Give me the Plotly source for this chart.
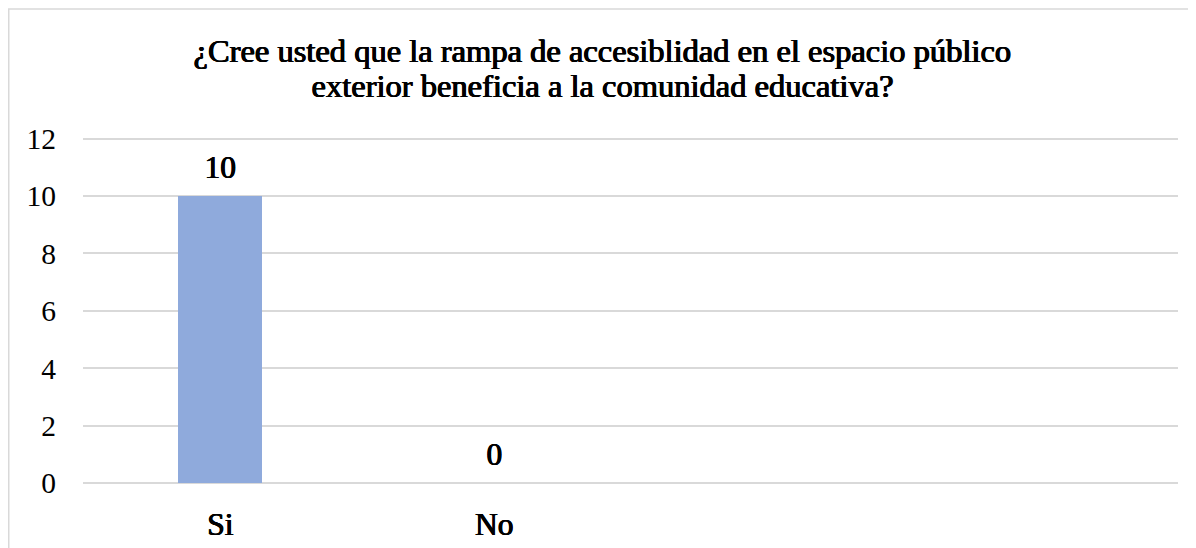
import plotly.graph_objects as go

categories = ["Si", "No"]
values = [10, 0]
y_ticks = [0, 2, 4, 6, 8, 10, 12]
title_lines = ["¿Cree usted que la rampa de accesiblidad en el espacio público",
               "exterior beneficia a la comunidad educativa?"]

SERIF = "Liberation Serif"
# Liberation Serif has no bold face here; thicken the regular face with a tight shadow
BOLD_SHADOW = "1.1px 0 0 #000000, 0.55px 0 0 #000000, 0.5px 0.3px 0 #000000"
# page body has an 8px margin, so the figure is sized to the remaining window
W, H = 1188, 540
ml, mr, mt, mb = 75, 18, 129, 65
pw = W - ml - mr
ph = H - mt - mb

fig = go.Figure()
fig.add_trace(go.Bar(
    x=categories, y=values, width=0.307,
    marker=dict(color="#8FAADC", line=dict(width=0)),
    hoverinfo="x+y",
))

for c, v in zip(categories, values):
    fig.add_annotation(x=c, y=v, text=str(v), showarrow=False,
                       yanchor="bottom", yshift=9,
                       font=dict(family=SERIF, size=31.5, color="#000000",
                                 shadow=BOLD_SHADOW))

# two-line title, each line placed separately to control the line spacing
for line, ypos in zip(title_lines, [(475 - 43) / ph, (475 - 78) / ph]):
    fig.add_annotation(xref="paper", yref="paper", x=(594 - ml) / pw, y=ypos,
                       text=line, showarrow=False, xanchor="center", yanchor="middle",
                       font=dict(family=SERIF, size=32.5, color="#000000",
                                 shadow=BOLD_SHADOW))

# chart border
fig.add_shape(type="rect", xref="paper", yref="paper",
              x0=(0.75 - ml) / pw, x1=(W + 5 - ml) / pw,
              y0=(-(mb + 5)) / ph, y1=(H - mb - 1) / ph,
              line=dict(color="#d9d9d9", width=1.5), fillcolor="rgba(0,0,0,0)",
              layer="below")

fig.update_layout(
    width=W, height=H,
    margin=dict(l=ml, r=mr, t=mt, b=mb, autoexpand=False),
    paper_bgcolor="white", plot_bgcolor="white",
    showlegend=False,
    font=dict(family=SERIF, color="#000000"),
    xaxis=dict(type="category", range=[-0.5, 3.5], automargin=False,
               tickvals=categories, ticktext=categories,
               tickfont=dict(family=SERIF, size=31.5, color="#000000",
                             shadow=BOLD_SHADOW),
               showgrid=False, showline=False, zeroline=False,
               ticks="", ticklabelstandoff=19),
    yaxis=dict(range=[0, 12.06], tickvals=y_ticks, automargin=False,
               tickfont=dict(family=SERIF, size=29.5, color="#000000"),
               showgrid=True, gridcolor="#d9d9d9", gridwidth=1.5,
               zeroline=True, zerolinecolor="#d9d9d9", zerolinewidth=1.5,
               showline=False, ticks="", ticklabelstandoff=26),
    bargap=0,
)

fig.write_html("out.html")
